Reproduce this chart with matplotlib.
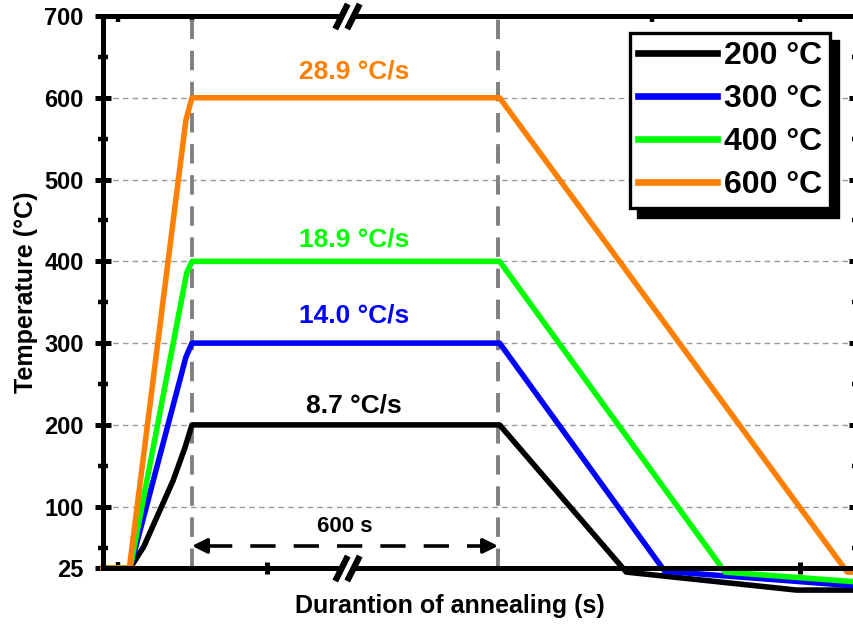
import matplotlib
matplotlib.use("Agg")
import matplotlib.pyplot as plt
import matplotlib.transforms as mtransforms

plt.rcParams['font.family'] = ['Liberation Sans', 'DejaVu Sans']
plt.rcParams['font.weight'] = 'bold'
plt.rcParams['axes.labelweight'] = 'bold'

# time axis has no scale in the original (broken axis), so time is in arbitrary units 0..100
labels = ['200 °C', '300 °C', '400 °C', '600 °C']
colors = ['#000000', '#0000ff', '#00ff00', '#ff8000']

time_200 = [0, 3.6, 5.4, 9.3, 10.9, 11.8, 52.6, 69.4, 92.0, 100]
temp_200 = [25, 25, 51, 132, 173, 200, 200, 20, -2, -2]

time_300 = [0, 3.6, 11.0, 11.8, 52.6, 74.5, 100]
temp_300 = [25, 25, 283, 300, 300, 21, 3]

time_400 = [0, 3.6, 11.1, 11.8, 52.6, 82.5, 100]
temp_400 = [25, 25, 386, 400, 400, 20, 8]

time_600 = [0, 3.5, 11.0, 11.8, 52.6, 98.7, 100]
temp_600 = [25, 25, 573, 600, 600, 20, 20]

rates = ['8.7 °C/s', '14.0 °C/s', '18.9 °C/s', '28.9 °C/s']
rate_y = [224, 334, 427, 632]
rate_x = 33.3

hold_start = 11.8
hold_end = 52.4
hold_label = '600 s'
break_x = 32.4

yticks = [25, 100, 200, 300, 400, 500, 600, 700]
yminor = [50, 150, 250, 350, 450, 550, 650]

fig = plt.figure(figsize=(8.54, 6.25), dpi=100)
ax = fig.add_axes([103 / 854, 57 / 625, 754 / 854, 552 / 625])

series = [(time_200, temp_200), (time_300, temp_300),
          (time_400, temp_400), (time_600, temp_600)]
handles = []
for (t, v), c, lab in zip(series, colors, labels):
    ln, = ax.plot(t, v, color=c, lw=4.0, label=lab, clip_on=False,
                  solid_joinstyle='round', zorder=2)
    handles.append(ln)

# rate labels
for txt, y, c in zip(rates, rate_y, colors):
    ax.text(rate_x, y, txt, color=c, fontsize=19, ha='center', va='center')

# hold window
for xv in (hold_start, hold_end):
    ax.axvline(xv, color='#808080', lw=2.8, dashes=(5, 3), zorder=1.5)

arrow_y = 52
ax.plot([hold_start + 2.0, hold_end - 2.0], [arrow_y, arrow_y], color='black',
        lw=2.6, dashes=(7, 5), zorder=3)
for tip, tail in ((hold_start, hold_start + 2.2), (hold_end, hold_end - 2.2)):
    ax.annotate('', xy=(tip, arrow_y), xytext=(tail, arrow_y),
                arrowprops=dict(arrowstyle='-|>', color='black', lw=2.6,
                                mutation_scale=22, shrinkA=0, shrinkB=0))
ax.text((hold_start + hold_end) / 2, 76, hold_label, fontsize=16,
        ha='center', va='center')

ax.set_xlim(0, 100)
ax.set_ylim(25, 700)

ax.set_yticks(yticks)
ax.set_yticks(yminor, minor=True)
ax.tick_params(axis='y', which='major', direction='inout', length=12,
               width=3.6, labelsize=17, pad=8, right=True)
ax.tick_params(axis='y', which='minor', direction='inout', length=6.5,
               width=3.2, right=True)

ax.set_xticks([21.8, 92.4])
ax.set_xticks([2.0], minor=True)
ax.tick_params(axis='x', which='major', direction='inout', length=9,
               width=3.6, labelbottom=False)
ax.tick_params(axis='x', which='minor', direction='in', length=4.5,
               width=3.2)

top = ax.secondary_xaxis('top')
top.set_xticks([2.0, 11.8, 72.8, 92.4])
top.tick_params(direction='in', length=4.5, width=3.2, labeltop=False)
top.spines['top'].set_visible(False)

for s in ax.spines.values():
    s.set_linewidth(3.6)

ax.yaxis.grid(True, which='major', color='#999999', lw=1.0, dashes=(4, 3))
ax.set_axisbelow(True)

ax.set_xlabel('Durantion of annealing (s)', fontsize=18)
ax.xaxis.set_label_coords((450 - 103) / 754, -0.048)
ax.set_ylabel('Temperature (°C)', fontsize=18, labelpad=4)

# axis break marks
bt = mtransforms.blended_transform_factory(ax.transData, ax.transAxes)
for yb in (0, 1):
    ax.plot([break_x], [yb], transform=bt, ls='none',
            marker=[(-0.5, -1), (0.5, 1)], ms=14, mew=6, color='white',
            clip_on=False, zorder=5)
    ax.plot([break_x - 0.8, break_x + 0.8], [yb, yb], transform=bt, ls='none',
            marker=[(-0.5, -1), (0.5, 1)], ms=18, mew=4.5, color='black',
            clip_on=False, zorder=6)

leg = ax.legend(handles=handles, loc='upper right',
                bbox_to_anchor=(830 / 854, 1 - 33 / 625),
                bbox_transform=fig.transFigure,
                prop={'size': 23, 'weight': 'bold'}, frameon=True,
                fancybox=False, edgecolor='black', handlelength=2.5,
                handletextpad=0.2, labelspacing=0.41, borderpad=0.25,
                borderaxespad=0,
                shadow={'color': 'black', 'alpha': 1, 'ox': 6, 'oy': -6})
leg.get_frame().set_linewidth(2.4)
for ln in leg.get_lines():
    ln.set_linewidth(4.8)

fig.savefig('out.png', dpi=100)
